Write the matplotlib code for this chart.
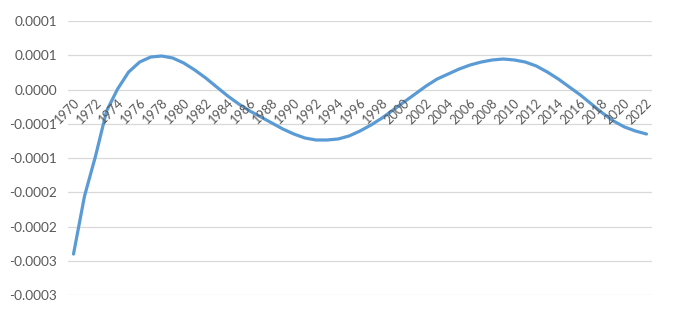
import matplotlib.pyplot as plt
import numpy as np

# data (values per year)
years = list(range(1970, 2023))
values = [
    -240.2, -155.5, -97.1, -31.4, 0.7, 25.5, 40.1, 47.4, 48.9, 46.0,
    38.7, 28.5, 16.8, 3.6, -9.5, -21.2, -31.4, -40.1, -48.9, -57.7,
    -65.0, -70.8, -73.7, -73.7, -72.3, -67.9, -60.6, -51.8, -41.6, -29.9,
    -18.2, -6.6, 5.1, 15.3, 22.6, 29.9, 35.8, 40.1, 43.1, 44.5,
    43.1, 40.1, 34.3, 25.5, 15.3, 3.6, -8.0, -21.2, -34.3, -46.0,
    -54.7, -60.6, -65.0,
]
values = [v * 1e-6 for v in values]

y_ticks = [0.0001, 0.00005, 0.0, -0.00005, -0.0001, -0.00015, -0.0002, -0.00025, -0.0003]
y_tick_labels = ['0.0001', '0.0001', '0.0000', '-0.0001', '-0.0001',
                 '-0.0002', '-0.0002', '-0.0003', '-0.0003']
x_labels = [str(y) for y in years[::2]]

plt.rcParams['font.family'] = ['Lato', 'DejaVu Sans']

fig = plt.figure(figsize=(6.78, 3.18), dpi=100)
ax = fig.add_axes([68 / 678, 1 - 295 / 318, (652 - 68) / 678, (295 - 21) / 318])

x = np.arange(len(years))
ax.plot(x, values, color='#5B9BD5', linewidth=2.3, solid_capstyle='round')

ax.set_xlim(-0.5, len(years) - 0.5)
ax.set_ylim(-0.0003, 0.0001)

# gridlines
ax.set_yticks(y_ticks)
ax.set_yticklabels(y_tick_labels, fontsize=9.8, color='#595959')
ax.grid(axis='y', color='#D9D9D9', linewidth=0.9)
ax.set_axisbelow(True)
ax.tick_params(axis='y', length=0, pad=8)

# x labels sit along the zero line, rotated
ax.set_xticks([])
for i, lab in zip(x[::2], x_labels):
    ax.annotate(lab, xy=(i, 0), xytext=(2.5, -8.5), textcoords='offset points',
                rotation=45, ha='right', va='center', rotation_mode='anchor',
                fontsize=9.2, color='#595959')

for s in ax.spines.values():
    s.set_visible(False)

fig.savefig('out.png', dpi=100)
